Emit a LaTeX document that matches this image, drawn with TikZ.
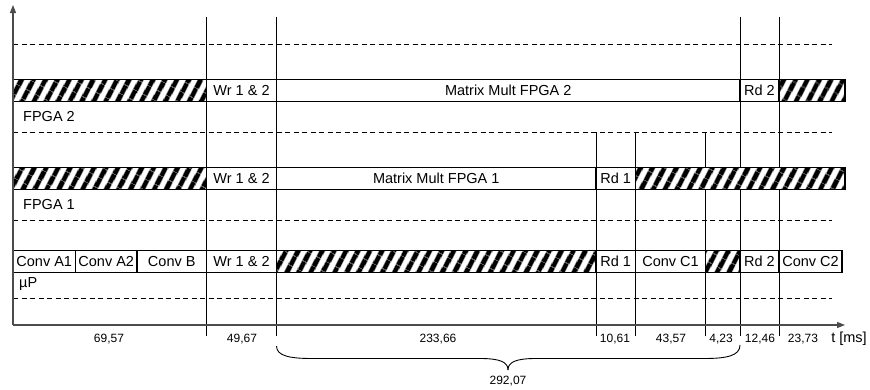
\documentclass[tikz,border=0pt]{standalone}
\usepackage{fontspec}
\setmainfont{Liberation Sans}
\usepackage{tikz}
\usetikzlibrary{arrows.meta,positioning,patterns.meta}

\begin{document}
\begin{tikzpicture}[
    x=1pt, y=-1pt,
    every node/.style={font=\fontsize{14.5}{16}\selectfont},
    slot/.style={
        draw, rectangle,
        fill=white,
        minimum height=21.5pt,
        inner sep=0pt, outer sep=0pt,
        line width=1.1pt,
        align=center
    },
    idle/.style={
        slot,
        preaction={fill=white},
        pattern={Lines[angle=62, distance=10.5pt, line width=5.5pt]}
    },
    gridline/.style={line width=0.9pt},
    sepline/.style={line width=0.9pt, dash pattern=on 5pt off 3.5pt},
    axis/.style={line width=1.1pt, black!70, -{Triangle[length=8pt, width=6pt]}},
    rowlabel/.style={anchor=west, inner sep=0pt},
    duration/.style={font=\fontsize{12}{14}\selectfont, inner sep=0pt}
]
\useasboundingbox (0,0) rectangle (870,389);

%% ── Separators and time grid ──────────────────────────
\foreach \y in {44,132,220,298}{
    \draw[sepline] (13,\y) -- (832,\y);
}
\foreach \x in {206.5,276.5,740,779}{
    \draw[gridline] (\x,17) -- (\x,336);
}
\foreach \x in {596,635.5,705.5}{
    \draw[gridline] (\x,132) -- (\x,336);
}

%% ── FPGA 2 row ────────────────────────────────────────
\node[idle, anchor=west, minimum width=193.5pt] (f2idleA) at (13,90.5) {};
\node[slot, right=0pt of f2idleA, minimum width=70pt] (f2wr) {Wr 1 \& 2};
\node[slot, right=0pt of f2wr, minimum width=463.5pt] (f2mm) {Matrix Mult FPGA 2};
\node[slot, right=0pt of f2mm, minimum width=39pt] (f2rd) {Rd 2};
\node[idle, right=0pt of f2rd, minimum width=66pt] (f2idleB) {};
\node[rowlabel] (lblfpga2) at (23,117) {FPGA 2};

%% ── FPGA 1 row ────────────────────────────────────────
\node[idle, anchor=west, minimum width=193.5pt] (f1idleA) at (13,178.3) {};
\node[slot, right=0pt of f1idleA, minimum width=70pt] (f1wr) {Wr 1 \& 2};
\node[slot, right=0pt of f1wr, minimum width=319.5pt] (f1mm) {Matrix Mult FPGA 1};
\node[slot, right=0pt of f1mm, minimum width=39.5pt] (f1rd) {Rd 1};
\node[idle, right=0pt of f1rd, minimum width=209.5pt] (f1idleB) {};
\node[rowlabel] (lblfpga1) at (23,205) {FPGA 1};

%% ── Processor row ─────────────────────────────────────
\node[slot, anchor=west, minimum width=62.5pt] (pconvA1) at (13,261.5) {Conv A1};
\node[slot, right=0pt of pconvA1, minimum width=61.5pt] (pconvA2) {Conv A2};
\node[slot, right=0pt of pconvA2, minimum width=69.5pt] (pconvB) {Conv B};
\node[slot, right=0pt of pconvB, minimum width=70pt] (pwr) {Wr 1 \& 2};
\node[idle, right=0pt of pwr, minimum width=319.5pt] (pidleA) {};
\node[slot, right=0pt of pidleA, minimum width=39.5pt] (prd1) {Rd 1};
\node[slot, right=0pt of prd1, minimum width=70pt] (pconvC1) {Conv C1};
\node[idle, right=0pt of pconvC1, minimum width=34.5pt] (pidleB) {};
\node[slot, right=0pt of pidleB, minimum width=39pt] (prd2) {Rd 2};
\node[slot, right=0pt of prd2, minimum width=63pt] (pconvC2) {Conv C2};
\node[rowlabel] (lblproc) at (19,284) {µP};

%% ── Axes ──────────────────────────────────────────────
\coordinate (origin) at (13,325);
\coordinate (ytip) at (13,5);
\coordinate (xtip) at (845,325);
\draw[axis] (origin) -- (ytip);
\draw[axis] (origin) -- (xtip);
\node (tunit) at (849,339) {t [ms]};

%% ── Durations ─────────────────────────────────────────
\node[duration] (d1) at (109,339) {69,57};
\node[duration] (d2) at (242,339) {49,67};
\node[duration] (d3) at (438,339) {233,66};
\node[duration] (d4) at (615,339) {10,61};
\node[duration] (d5) at (671,339) {43,57};
\node[duration] (d6) at (721,339) {4,23};
\node[duration] (d7) at (760,339) {12,46};
\node[duration] (d8) at (803,339) {23,73};

%% ── Brace over the FPGA part ──────────────────────────
\coordinate (brL) at (276.5,346);
\coordinate (brR) at (740,345);
\coordinate (brTip) at (508,370);
\draw[line width=0.9pt] (brL)
    .. controls (276.5,356) and (290,358.5) .. (312,358.5)
    -- (480,358.5)
    .. controls (500,358.5) and (508,362) .. (brTip);
\draw[line width=0.9pt] (brR)
    .. controls (740,356) and (726,358.5) .. (704,358.5)
    -- (536,358.5)
    .. controls (516,358.5) and (508,362) .. (brTip);
\node[duration] (dtotal) at (508,381) {292,07};

\end{tikzpicture}
\end{document}
